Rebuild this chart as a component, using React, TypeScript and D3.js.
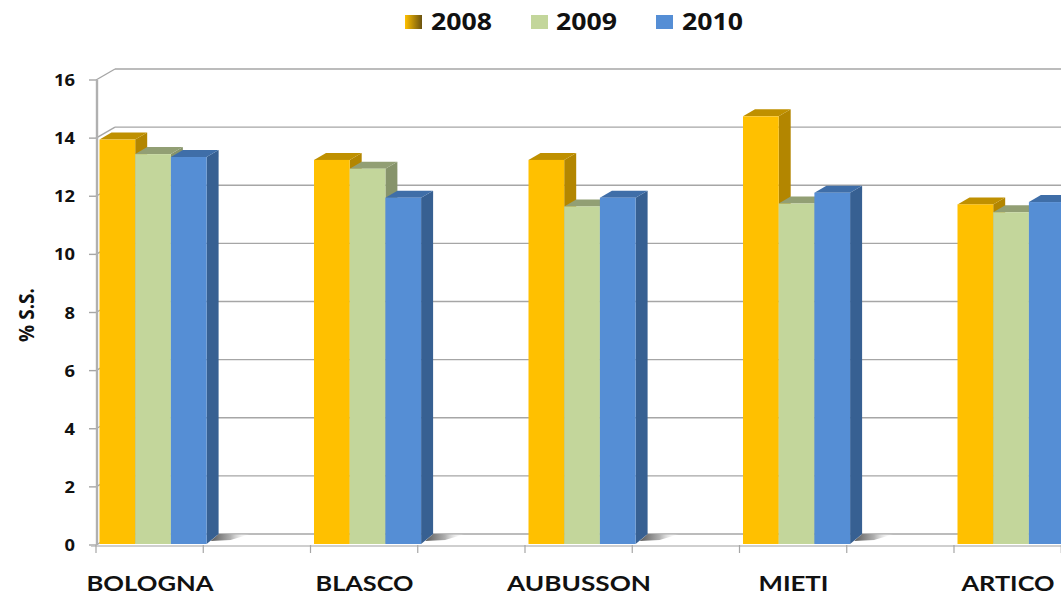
import React from "react";
import * as d3 from "d3";

const categories = ["BOLOGNA", "BLASCO", "AUBUSSON", "MIETI", "ARTICO"];
const categoryWidths = [127, 98, 144, 70, 93];
const years = ["2008", "2009", "2010"];
const values2008 = [13.95, 13.25, 13.25, 14.75, 11.72];
const values2009 = [13.45, 12.95, 11.65, 11.75, 11.45];
const values2010 = [13.35, 11.95, 11.95, 12.12, 11.8];
const seriesValues = [values2008, values2009, values2010];
const frontColors = ["#ffc000", "#c3d69b", "#558ed5"];
const topColors = ["#bf9000", "#929f74", "#3f6ea8"];
const sideColors = ["#b38600", "#87946b", "#376092"];
const yTicks = [0, 2, 4, 6, 8, 10, 12, 14, 16];

const W = 1061;
const H = 596;
const DX = 12;
const DY = 7;
const WALL_DX = 19;
const WALL_DY = 11;
const FONT = "'Open Sans', sans-serif";
const LABEL_FONT = "Lato, 'Open Sans', sans-serif";

const y = d3.scaleLinear().domain([0, 16]).range([545, 80]);
const x = d3.scaleBand<string>().domain(categories).range([96, 96 + 5 * 214.5]);
const inner = d3.scaleBand<string>().domain(years).range([3.5, 110.6]);
const halfTicks = d3.range(0, 10).map((i) => 96 + (i * x.step()) / 2);

const pts = (p: number[][]) => p.map((q) => q.join(",")).join(" ");

export default function App() {
  const w = inner.bandwidth();
  const base = y(0) - 1;
  return (
    <svg
      width={W}
      height={H}
      viewBox={`0 0 ${W} ${H}`}
      style={{ position: "absolute", left: 0, top: 0, background: "#fff" }}
    >
      <defs>
        <linearGradient id="swatch08" x1="0" x2="1" y1="0" y2="0">
          <stop offset="0" stopColor="#ffc000" />
          <stop offset="1" stopColor="#6b5310" />
        </linearGradient>
        <linearGradient id="shadow" x1="0" x2="1" y1="0" y2="0">
          <stop offset="0" stopColor="#5a5a5a" />
          <stop offset="0.5" stopColor="#b0b0b0" />
          <stop offset="1" stopColor="#ffffff" stopOpacity="0" />
        </linearGradient>
      </defs>

      {/* legend */}
      {years.map((yr, i) => {
        const sx = [405, 531, 656][i];
        const tx = [431, 556, 682][i];
        return (
          <g key={yr}>
            <rect x={sx} y={15} width={17} height={14} fill={i === 0 ? "url(#swatch08)" : frontColors[i]} />
            <text x={tx} y={30} fontFamily={FONT} fontWeight={700} fontSize={23} textLength={61} lengthAdjust="spacingAndGlyphs" fill="#111">
              {yr}
            </text>
          </g>
        );
      })}

      {/* walls */}
      {yTicks.map((t) => (
        <g key={t} stroke="#a6a6a6" strokeWidth={1.4} fill="none">
          <line x1={96 + WALL_DX} x2={W} y1={y(t) - WALL_DY} y2={y(t) - WALL_DY} />
          <line x1={96} x2={96 + WALL_DX} y1={y(t)} y2={y(t) - WALL_DY} />
          <line x1={89} x2={96} y1={y(t)} y2={y(t)} />
        </g>
      ))}
      <line x1={97} x2={97} y1={y(16)} y2={y(0)} stroke="#b0b0b0" strokeWidth={2.4} />
      <line x1={91} x2={W} y1={y(0) + 1} y2={y(0) + 1} stroke="#bfbfbf" strokeWidth={1.4} />
      {halfTicks.map((t) => (
        <line key={t} x1={t} x2={t} y1={y(0)} y2={y(0) + 8} stroke="#a6a6a6" strokeWidth={1.2} />
      ))}

      {/* bars */}
      {categories.map((c, ci) => {
        const gx = x(c) as number;
        const right = gx + (inner(years[2]) as number) + w;
        return (
          <g key={c}>
            <polygon
              points={pts([
                [right + DX, base - 10],
                [right + DX + 32, base - 10],
                [right + DX + 12, base - 4],
                [right + 4, base - 3],
              ])}
              fill="url(#shadow)"
            />
            {years.map((yr, si) => {
              const v = seriesValues[si][ci];
              const bx = gx + (inner(yr) as number);
              const top = y(v);
              return (
                <g key={yr}>
                  <polygon
                    points={pts([
                      [bx + w, top],
                      [bx + w + DX, top - DY],
                      [bx + w + DX, base - DY - 3],
                      [bx + w, base],
                    ])}
                    fill={sideColors[si]}
                  />
                  <polygon
                    points={pts([
                      [bx, top],
                      [bx + DX, top - DY],
                      [bx + w + DX, top - DY],
                      [bx + w, top],
                    ])}
                    fill={topColors[si]}
                  />
                  <rect x={bx} y={top} width={w} height={base - top} fill={frontColors[si]} />
                </g>
              );
            })}
          </g>
        );
      })}

      {/* y tick labels */}
      {yTicks.map((t) => (
        <text
          key={t}
          x={75}
          y={y(t) + 6}
          textAnchor="end"
          fontFamily={FONT}
          fontWeight={700}
          fontSize={15.5}
          textLength={t >= 10 ? 21 : 10.5}
          lengthAdjust="spacingAndGlyphs"
          fill="#111"
        >
          {t}
        </text>
      ))}

      {/* y title */}
      <text
        transform="translate(34,315) rotate(-90)"
        textAnchor="middle"
        fontFamily={FONT}
        fontWeight={700}
        fontSize={21}
        textLength={54}
        lengthAdjust="spacingAndGlyphs"
        fill="#111"
      >
        % S.S.
      </text>

      {/* category labels */}
      {categories.map((c, i) => (
        <text
          key={c}
          x={(x(c) as number) + 54}
          y={591}
          textAnchor="middle"
          fontFamily={LABEL_FONT}
          fontWeight={700}
          fontSize={20}
          textLength={categoryWidths[i]}
          lengthAdjust="spacingAndGlyphs"
          fill="#111"
        >
          {c}
        </text>
      ))}
    </svg>
  );
}
